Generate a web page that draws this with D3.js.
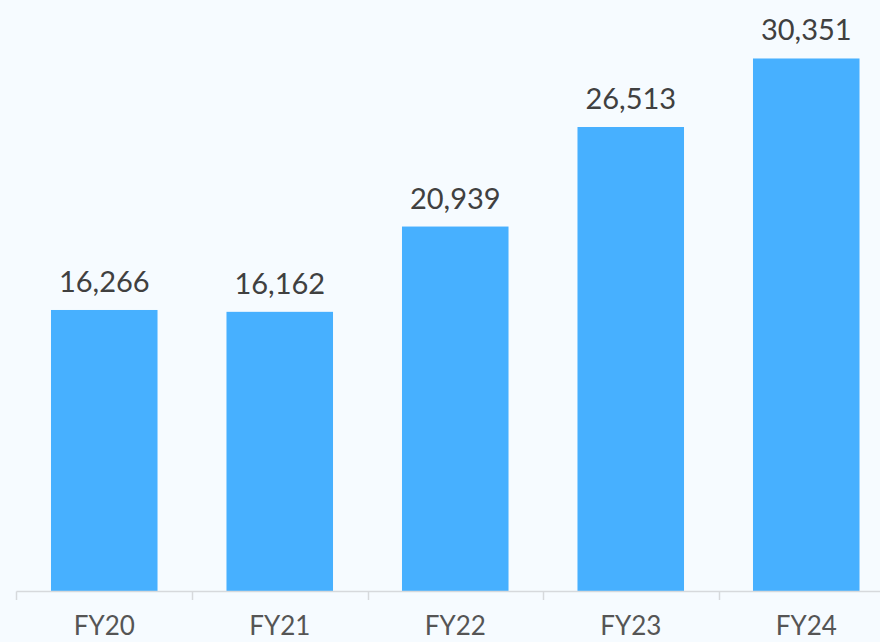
<!DOCTYPE html>
<html><head><meta charset="utf-8">
<script src="https://cdn.jsdelivr.net/npm/d3@7"></script>
<style>
html,body{margin:0;padding:0;background:#f6fbff;overflow:hidden;}
svg{display:block;}
</style></head>
<body><svg id="c" width="880" height="642"></svg>
<script>
const categories = ["FY20","FY21","FY22","FY23","FY24"];
const values = [16266,16162,20939,26513,30351];

const svg = d3.select("#c");
const W = 880, H = 642;
svg.append("rect").attr("width",W).attr("height",H).attr("fill","#f6fbff");

const x = d3.scaleBand().domain(categories).range([16.5, 894]).paddingInner(0.393).paddingOuter(0.1965);
const y = d3.scaleLinear().domain([500, 33626]).range([591.5, 0]);
const fmt = d3.format(",");

svg.selectAll("rect.bar").data(values).enter().append("rect")
  .attr("class","bar")
  .attr("x",(d,i)=>x(categories[i]))
  .attr("width",x.bandwidth())
  .attr("y",d=>y(d))
  .attr("height",d=>y(500)-y(d))
  .attr("fill","#47b0ff");

svg.selectAll("text.val").data(values).enter().append("text")
  .attr("class","val")
  .attr("x",(d,i)=>x(categories[i])+x.bandwidth()/2)
  .attr("y",d=>y(d)-18)
  .attr("text-anchor","middle")
  .attr("font-family","Lato, sans-serif")
  .attr("font-size",29)
  .attr("fill","#404040")
  .text(d=>fmt(d));

// axis
const step = x.step();
const off = step*x.paddingInner()/2;
const g = svg.append("g");
g.append("line").attr("x1",16.5).attr("x2",894).attr("y1",591.5).attr("y2",591.5)
  .attr("stroke","#d6d9dc").attr("stroke-width",1.5);
categories.forEach(c=>{
  const tx = Math.round(x(c)-off)+0.5;
  g.append("line").attr("x1",tx).attr("x2",tx).attr("y1",591.5).attr("y2",600)
    .attr("stroke","#d6d9dc").attr("stroke-width",1.5);
});
g.selectAll("text.cat").data(categories).enter().append("text")
  .attr("class","cat")
  .attr("x",d=>x(d)+x.bandwidth()/2)
  .attr("y",635.3)
  .attr("text-anchor","middle")
  .attr("font-family","Lato, sans-serif")
  .attr("font-size",26)
  .attr("fill","#555555")
  .text(d=>d);
</script></body></html>
